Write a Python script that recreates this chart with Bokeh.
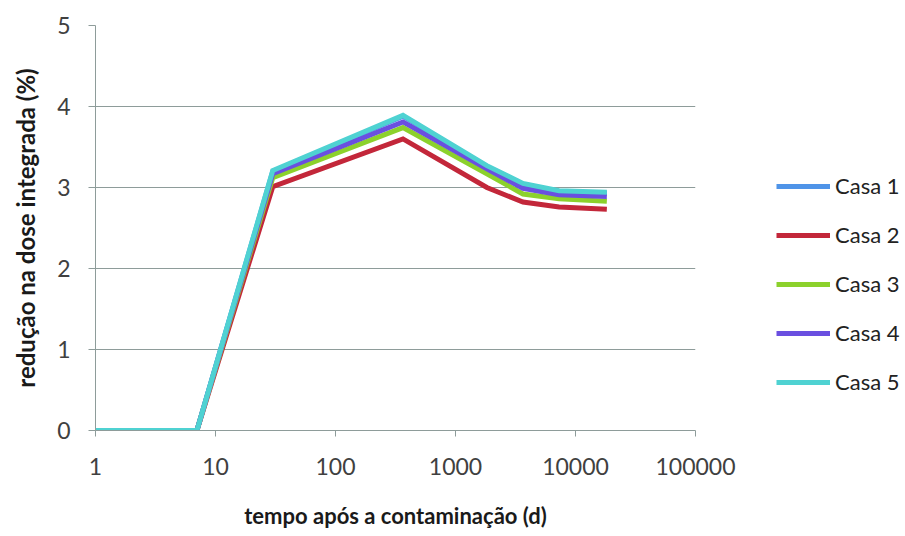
from bokeh.plotting import figure
from bokeh.models import Range1d, FixedTicker, Legend, LegendItem
from bokeh.embed import file_html
from bokeh.resources import INLINE

# data
days = [1, 7, 30, 365, 1825, 3650, 7300, 18250]
casa1 = [0, 0, 3.20, 3.88, 3.26, 3.04, 2.95, 2.93]
casa2 = [0, 0, 3.01, 3.60, 3.00, 2.82, 2.76, 2.73]
casa3 = [0, 0, 3.12, 3.74, 3.17, 2.92, 2.86, 2.83]
casa4 = [0, 0, 3.17, 3.81, 3.23, 2.99, 2.91, 2.89]
casa5 = [0, 0, 3.21, 3.89, 3.27, 3.05, 2.96, 2.94]
series_names = ["Casa 1", "Casa 2", "Casa 3", "Casa 4", "Casa 5"]
series_colors = ["#4f94e8", "#c3273a", "#8cd12c", "#6a4fe0", "#4fd2d2"]
x_ticks = [1, 10, 100, 1000, 10000, 100000]
x_tick_labels = ["1", "10", "100", "1000", "10000", "100000"]
y_ticks = [0, 1, 2, 3, 4, 5]

FONT = "Lato"
GRAY = "#8e9c9a"
TXT = "#404040"

p = figure(frame_width=600, frame_height=405, x_axis_type="log",
           x_range=Range1d(1, 100000), y_range=Range1d(0, 5),
           output_backend="svg", toolbar_location=None,
           min_border_left=95, min_border_right=210,
           min_border_top=25, min_border_bottom=106)
p.outline_line_color = None
p.background_fill_color = "white"
p.border_fill_color = "white"

renderers = []
for name, vals, col in zip(series_names, [casa1, casa2, casa3, casa4, casa5], series_colors):
    r = p.line(days, vals, line_color=col, line_width=5, line_join="miter")
    renderers.append(r)

# grid
p.xgrid.grid_line_color = None
p.ygrid.grid_line_color = GRAY
p.ygrid.grid_line_width = 1
p.ygrid.ticker = FixedTicker(ticks=[1, 2, 3, 4, 5])

# x axis
xa = p.xaxis[0]
xa.ticker = FixedTicker(ticks=x_ticks, minor_ticks=[])
xa.major_label_overrides = {t: l for t, l in zip(x_ticks, x_tick_labels)}
xa.axis_line_color = GRAY
xa.major_tick_line_color = GRAY
xa.major_tick_out = 6
xa.major_tick_in = 0
xa.minor_tick_line_color = None
xa.major_label_standoff = 21
xa.major_label_text_font = FONT
xa.major_label_text_font_size = "23px"
xa.major_label_text_color = TXT
xa.axis_label = "tempo após a contaminação (d)"
xa.axis_label_text_font = FONT
xa.axis_label_text_font_style = "bold"
xa.axis_label_text_font_size = "22px"
xa.axis_label_text_color = "#1a1a1a"
xa.axis_label_standoff = 24

# y axis
ya = p.yaxis[0]
ya.ticker = FixedTicker(ticks=y_ticks, minor_ticks=[])
ya.axis_line_color = GRAY
ya.major_tick_line_color = GRAY
ya.major_tick_out = 7
ya.major_tick_in = 0
ya.minor_tick_line_color = None
ya.major_label_standoff = 18
ya.major_label_text_font = FONT
ya.major_label_text_font_size = "23px"
ya.major_label_text_color = TXT
ya.axis_label = "redução na dose integrada (%)"
ya.axis_label_text_font = FONT
ya.axis_label_text_font_style = "bold"
ya.axis_label_text_font_size = "24px"
ya.axis_label_text_color = "#1a1a1a"
ya.axis_label_standoff = 14

items = [LegendItem(label=n, renderers=[r]) for n, r in zip(series_names, renderers)]
legend = Legend(items=items, location=(81, 35), orientation="vertical",
                glyph_width=54, glyph_height=20, label_height=20,
                label_standoff=5, spacing=22, padding=0, margin=0,
                border_line_color=None, background_fill_alpha=0,
                label_text_font=FONT, label_text_font_size="22px",
                label_text_color="#222222")
p.add_layout(legend, "right")

open("out.html", "w").write(file_html(p, INLINE))
